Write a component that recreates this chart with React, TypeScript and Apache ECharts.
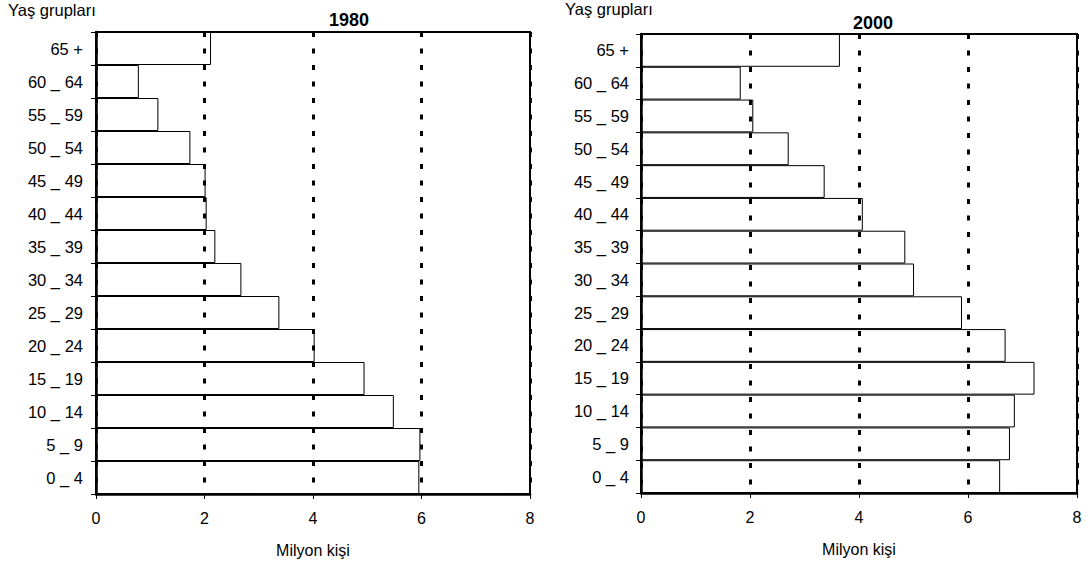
import React, { useEffect, useRef } from "react";
import * as echarts from "echarts";

const ageGroups = ["0 _ 4", "5 _ 9", "10 _ 14", "15 _ 19", "20 _ 24", "25 _ 29", "30 _ 34", "35 _ 39", "40 _ 44", "45 _ 49", "50 _ 54", "55 _ 59", "60 _ 64", "65 +"];
const values1980 = [5.96, 5.98, 5.49, 4.95, 4.03, 3.38, 2.68, 2.2, 2.04, 2.02, 1.74, 1.15, 0.79, 2.12];
const values2000 = [6.59, 6.77, 6.86, 7.22, 6.69, 5.89, 5.01, 4.85, 4.07, 3.37, 2.71, 2.06, 1.83, 3.65];
const yearTitles = ["1980", "2000"];
const axisTitleY = "Yaş grupları";
const axisTitleX = "Milyon kişi";

const FONT = "'Liberation Sans', Arial, sans-serif";

export default function App() {
  const ref = useRef<HTMLDivElement>(null);
  useEffect(() => {
    if (!ref.current) return;
    const chart = echarts.init(ref.current, undefined, { renderer: "svg" });
    const grids = [
      { left: 96, top: 32, width: 434, height: 462 },
      { left: 641, top: 34, width: 436, height: 459 },
    ];
    const mkX = (i: number) => ({
      type: "value",
      gridIndex: i,
      min: 0,
      max: 8,
      interval: 2,
      name: axisTitleX,
      nameLocation: "middle",
      nameGap: 48,
      nameTextStyle: { color: "#000", fontSize: 16, fontFamily: FONT },
      axisLine: { show: true, lineStyle: { color: "#000", width: 2.5 } },
      axisTick: { show: true, length: 5, lineStyle: { color: "#000", width: 1 } },
      axisLabel: { color: "#000", fontSize: 16, fontFamily: FONT, margin: 16 },
      splitLine: { show: true, lineStyle: { color: "#000", width: 3, type: [5, 11.5] } },
    });
    const mkY = (i: number) => ({
      type: "category",
      gridIndex: i,
      data: ageGroups,
      axisLine: { show: true, lineStyle: { color: "#000", width: 2.5 } },
      axisTick: { show: true, length: 5, lineStyle: { color: "#000", width: 1 } },
      axisLabel: { color: "#000", fontSize: 16.5, fontFamily: FONT, margin: i === 0 ? 13 : 12 },
      splitLine: { show: false },
    });
    chart.setOption({
      animation: false,
      backgroundColor: "#fff",
      grid: grids.map((g) => ({ ...g, show: true, borderColor: "#000", borderWidth: 2, backgroundColor: "transparent" })),
      xAxis: [mkX(0), mkX(1)],
      yAxis: [mkY(0), mkY(1)],
      series: [values1980, values2000].map((vals, i) => ({
        type: "bar",
        xAxisIndex: i,
        yAxisIndex: i,
        data: vals,
        barCategoryGap: "0%",
        itemStyle: { color: "rgba(255,255,255,0)", borderColor: "#000", borderWidth: 1 },
        z: 3,
      })),
      graphic: [
        { type: "text", x: 8, y: 10, style: { text: axisTitleY, font: `16.5px ${FONT}`, fill: "#000", textAlign: "left", textVerticalAlign: "middle" } },
        { type: "text", x: 349, y: 20, style: { text: yearTitles[0], font: `bold 18px ${FONT}`, fill: "#000", textAlign: "center", textVerticalAlign: "middle" } },
        { type: "text", x: 565, y: 9, style: { text: axisTitleY, font: `16.5px ${FONT}`, fill: "#000", textAlign: "left", textVerticalAlign: "middle" } },
        { type: "text", x: 873, y: 23, style: { text: yearTitles[1], font: `bold 18px ${FONT}`, fill: "#000", textAlign: "center", textVerticalAlign: "middle" } },
      ],
    });
    return () => chart.dispose();
  }, []);
  return <div ref={ref} style={{ position: "absolute", left: 0, top: 0, width: 1086, height: 569 }} />;
}
